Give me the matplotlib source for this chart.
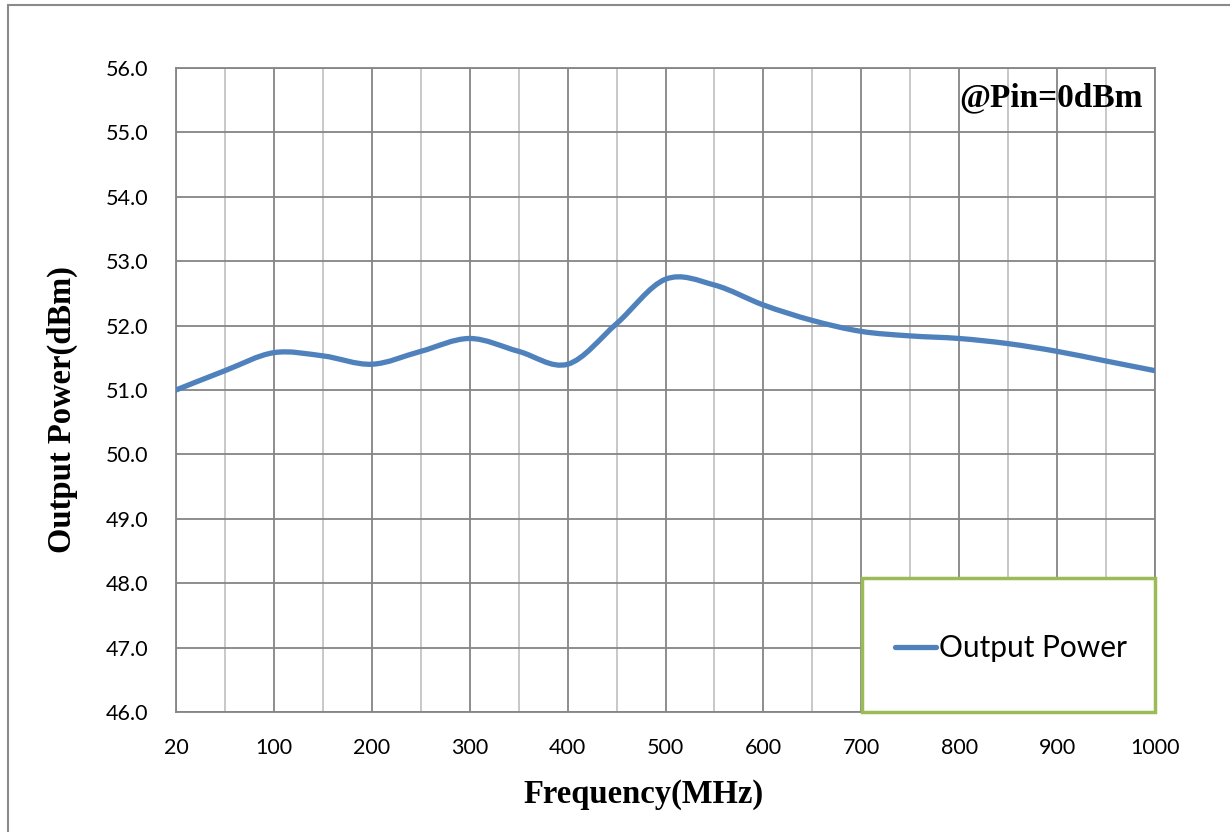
import numpy as np
import matplotlib
matplotlib.use("Agg")
import matplotlib.pyplot as plt
from matplotlib.path import Path
from matplotlib.patches import PathPatch, Rectangle
from matplotlib.lines import Line2D

freqs = [20, 50, 100, 150, 200, 250, 300, 350, 400, 450, 500,
         550, 600, 650, 700, 750, 800, 850, 900, 950, 1000]
power = [51.0, 51.3, 51.58, 51.53, 51.4, 51.6, 51.8, 51.6, 51.4, 52.03, 52.72,
         52.63, 52.32, 52.08, 51.91, 51.84, 51.8, 51.72, 51.6, 51.45, 51.3]
tick_labels = ["20", "100", "200", "300", "400", "500", "600", "700", "800", "900", "1000"]
y_ticks = [46.0, 47.0, 48.0, 49.0, 50.0, 51.0, 52.0, 53.0, 54.0, 55.0, 56.0]

LINE_C = "#4F81BD"
tick_font = "Lato"
serif = "Liberation Serif"

W, H = 1230, 832
fig = plt.figure(figsize=(W/100, H/100), dpi=100)
fig.patch.set_facecolor("white")
ax = fig.add_axes([176/W, 1-712/H, (1155-176)/W, (712-68)/H])

x = np.arange(len(freqs), dtype=float)
y = np.array(power, dtype=float)

# smoothed line (Catmull-Rom bezier like spreadsheet smoothing)
verts = [(x[0], y[0])]
codes = [Path.MOVETO]
n = len(x)
for i in range(n - 1):
    p0 = np.array([x[max(i-1, 0)], y[max(i-1, 0)]])
    p1 = np.array([x[i], y[i]])
    p2 = np.array([x[i+1], y[i+1]])
    p3 = np.array([x[min(i+2, n-1)], y[min(i+2, n-1)]])
    c1 = p1 + (p2 - p0) / 6.0
    c2 = p2 - (p3 - p1) / 6.0
    verts += [tuple(c1), tuple(c2), tuple(p2)]
    codes += [Path.CURVE4] * 3
path = Path(verts, codes)
patch = PathPatch(path, facecolor="none", edgecolor=LINE_C, lw=3.8,
                  capstyle="round", joinstyle="round", zorder=3)
ax.add_patch(patch)

ax.set_xlim(0, n - 1)
ax.set_ylim(46, 56)

# gridlines
ax.set_xticks(x[::2])
ax.set_xticklabels(tick_labels)
ax.set_xticks(x[1::2], minor=True)
ax.set_yticks(y_ticks)
ax.set_yticklabels([f"{v:.1f}" for v in y_ticks])
ax.grid(True, which="major", axis="both", color="#858585", lw=1.3, zorder=1)
ax.grid(True, which="minor", axis="x", color="#c4c4c4", lw=1.3, zorder=1)
ax.tick_params(which="both", length=0)
ax.tick_params(axis="x", pad=19, labelsize=15.5)
ax.tick_params(axis="y", pad=20, labelsize=15.5)
for lab in ax.get_xticklabels() + ax.get_yticklabels():
    lab.set_fontfamily(tick_font)
for s in ax.spines.values():
    s.set_visible(True)
    s.set_color("#858585")
    s.set_linewidth(1.3)

ax.set_xlabel("Frequency(MHz)", fontfamily=serif, fontweight="bold", fontsize=23.5)
ax.xaxis.set_label_coords((644 - 176) / 979, (712 - 795) / 644)
ax.xaxis.label.set_va("center")
ax.set_ylabel("Output Power(dBm)", fontfamily=serif, fontweight="bold", fontsize=23.5)
ax.yaxis.set_label_coords((62 - 176) / 979, (712 - 410) / 644)
ax.yaxis.label.set_va("center")

ax.text((1143 - 176) / 979, (712 - 98) / 644, "@Pin=0dBm", transform=ax.transAxes,
        ha="right", va="center", fontfamily=serif, fontweight="bold",
        fontsize=24, zorder=5)

# legend box
x0 = (862 - 176) / 979
y1 = (712 - 578) / 644
box = Rectangle((x0, 0), 1 - x0, y1, transform=ax.transAxes, facecolor="white",
                edgecolor="#9BBB59", lw=2.5, zorder=6, clip_on=False)
ax.add_patch(box)
handle = Line2D([0], [0], color=LINE_C, lw=3.8, solid_capstyle="round")
leg = ax.legend([handle], ["Output Power"], loc="center",
                bbox_to_anchor=((1011 - 176) / 979, (712 - 648) / 644),
                prop={"family": tick_font, "size": 21.5},
                frameon=False, handlelength=1.35, handletextpad=0.1,
                borderpad=0, borderaxespad=0)
leg.set_zorder(7)

# outer chart border
fig.patches.append(Rectangle((8/W, -0.05), 1.2, 1 - 5/H + 0.05,
                             transform=fig.transFigure, fill=False,
                             edgecolor="#8a8a8a", lw=1.5))

fig.savefig("out.png", dpi=100, facecolor="white")
